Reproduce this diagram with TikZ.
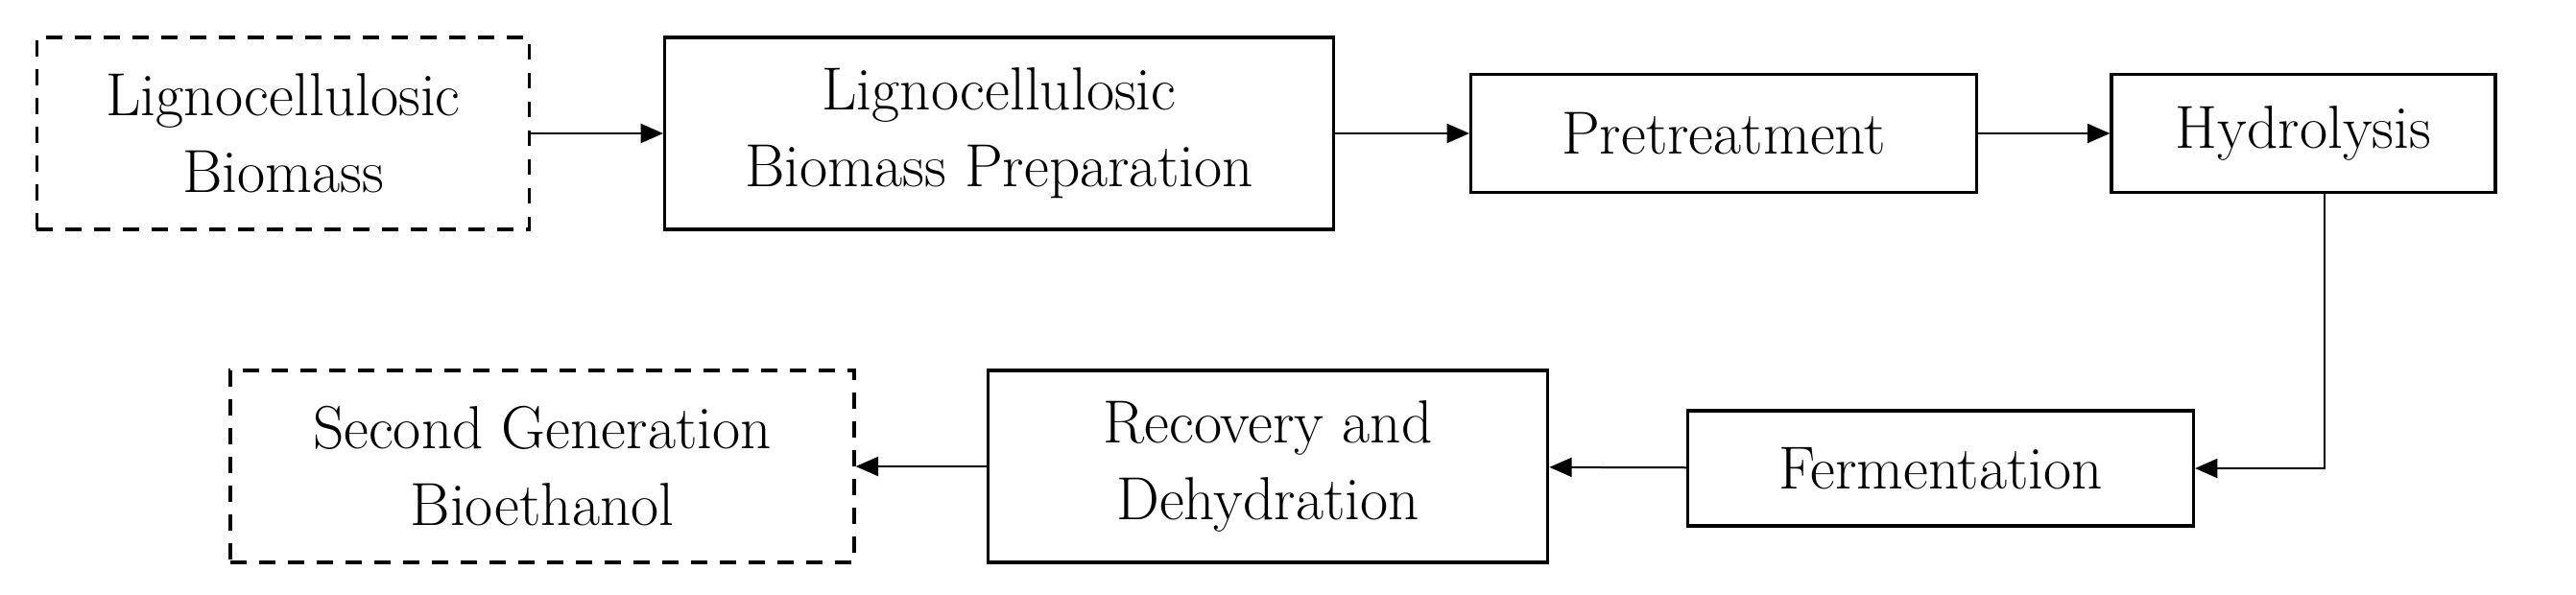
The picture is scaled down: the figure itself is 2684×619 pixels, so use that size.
\documentclass[tikz,border=0pt]{standalone}
\usepackage{mathpazo}
\usetikzlibrary{arrows.meta}
\tikzset{
  stage/.style={draw,line width=1pt,align=center,inner sep=0pt,font=\fontsize{19}{24}\selectfont},
  ends/.style={stage,dashed,dash pattern=on 5pt off 4pt},
  flow/.style={line width=0.6pt,-{Triangle[length=7pt,width=6pt]}}
}
\begin{document}
\begin{tikzpicture}[x=0.3pt,y=-0.3pt]
\useasboundingbox (0,0) rectangle (2684,619);

% top row
\node[ends,minimum width=154pt,minimum height=60pt] (bio) at (295,139) {Lignocellulosic\\Biomass};
\node[stage,minimum width=209pt,minimum height=60pt] (prep) at (1041,139) {Lignocellulosic\\Biomass Preparation};
\node[stage,minimum width=158pt,minimum height=37pt] (pre) at (1796,139) {Pretreatment};
\node[stage,minimum width=120pt,minimum height=37pt] (hyd) at (2400,139) {Hydrolysis};

% bottom row
\node[stage,minimum width=158pt,minimum height=36pt] (fer) at (2022,488) {Fermentation};
\node[stage,minimum width=175pt,minimum height=60pt] (rec) at (1321,486) {Recovery and\\Dehydration};
\node[ends,minimum width=195pt,minimum height=60pt] (eth) at (565,486) {Second Generation\\Bioethanol};

\coordinate (bend) at (2422,488);

\draw[flow] (bio) -- (prep);
\draw[flow] (prep) -- (pre);
\draw[flow] (pre) -- (hyd);
\draw[flow] (hyd.south -| bend) -- (bend) -- (fer);
\draw[flow] (fer) -- (rec);
\draw[flow] (rec) -- (eth);
\end{tikzpicture}
\end{document}
